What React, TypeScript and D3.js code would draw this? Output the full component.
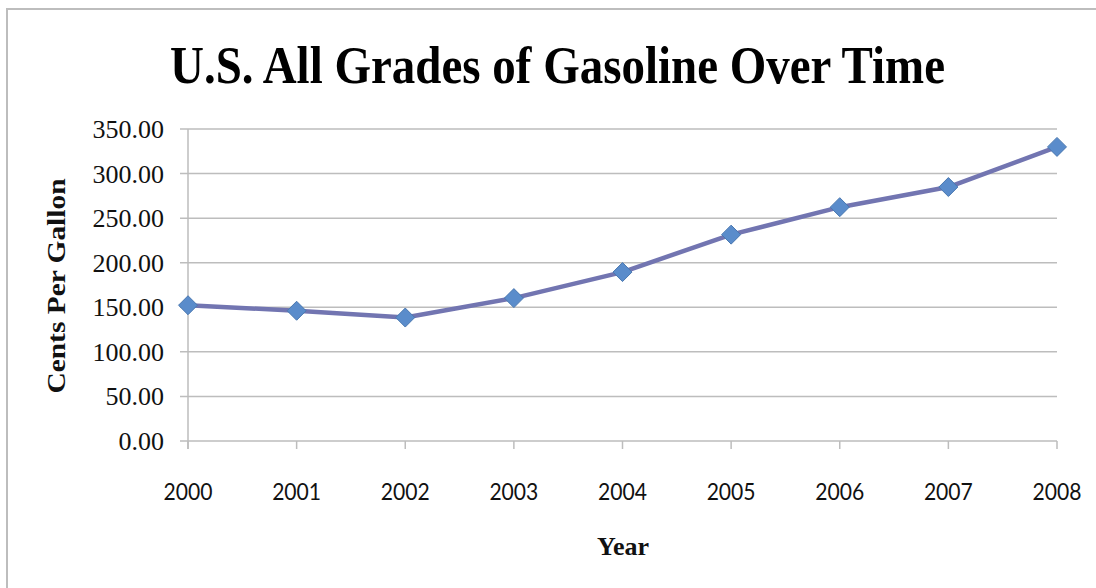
import React from "react";
import * as d3 from "d3";

const years = [2000, 2001, 2002, 2003, 2004, 2005, 2006, 2007, 2008];
const centsPerGallon = [152.3, 146.1, 138.5, 160.3, 189.5, 231.5, 262.3, 284.9, 329.9];
const yTicks = [0, 50, 100, 150, 200, 250, 300, 350];

const W = 1096;
const H = 588;
const left = 188;
const right = 1057;
const top = 129;
const bottom = 441;

export default function App() {
  const x = d3.scalePoint<number>().domain(years).range([left, right]);
  const y = d3.scaleLinear().domain([0, 350]).range([bottom, top]);
  const line = d3
    .line<number>()
    .x((_, i) => x(years[i]) as number)
    .y((d) => y(d));
  const diamond = d3.symbol().type(d3.symbolDiamond2).size(230)();

  return (
    <svg
      width={W}
      height={H}
      style={{ position: "absolute", left: 0, top: 0, background: "#fff" }}
    >
      <rect x={7} y={9} width={W + 20} height={H + 20} fill="#fff" stroke="#bdbdbd" strokeWidth={2} />
      <text
        x={170}
        y={83}
        fontFamily="'Liberation Serif', serif"
        fontWeight="bold"
        fontSize={53}
        textLength={775}
        lengthAdjust="spacingAndGlyphs"
        fill="#000"
      >
        U.S. All Grades of Gasoline Over Time
      </text>

      {yTicks.map((t) => (
        <g key={t}>
          <line x1={180} x2={right} y1={y(t)} y2={y(t)} stroke="#bdbdbd" strokeWidth={1.5} />
          <text
            x={164}
            y={y(t) + 9}
            textAnchor="end"
            fontFamily="'Liberation Serif', serif"
            fontSize={26}
            fill="#111"
          >
            {t.toFixed(2)}
          </text>
        </g>
      ))}
      <line x1={left} x2={left} y1={top} y2={bottom + 8} stroke="#bdbdbd" strokeWidth={1.5} />
      {years.map((yr) => (
        <g key={yr}>
          <line x1={x(yr)} x2={x(yr)} y1={bottom} y2={bottom + 8} stroke="#bdbdbd" strokeWidth={1.5} />
          <text
            x={(x(yr) as number) - 24.5}
            y={500}
            fontFamily="Lato, 'Open Sans', sans-serif"
            fontSize={24}
            textLength={49}
            lengthAdjust="spacingAndGlyphs"
            fill="#111"
          >
            {yr}
          </text>
        </g>
      ))}

      <text
        x={623}
        y={555}
        textAnchor="middle"
        fontFamily="'Liberation Serif', serif"
        fontWeight="bold"
        fontSize={26}
        fill="#111"
      >
        Year
      </text>
      <text
        transform="translate(65,286) rotate(-90)"
        textAnchor="middle"
        fontFamily="'Liberation Serif', serif"
        fontWeight="bold"
        fontSize={26}
        textLength={215}
        lengthAdjust="spacingAndGlyphs"
        fill="#111"
      >
        Cents Per Gallon
      </text>

      <path d={line(centsPerGallon) || ""} fill="none" stroke="#7275b1" strokeWidth={4.5} strokeLinejoin="round" />
      {centsPerGallon.map((v, i) => (
        <path
          key={years[i]}
          d={diamond || ""}
          transform={`translate(${x(years[i])},${y(v)})`}
          fill="#5a8ccb"
          stroke="#4a78b0"
          strokeWidth={1}
        />
      ))}
    </svg>
  );
}
